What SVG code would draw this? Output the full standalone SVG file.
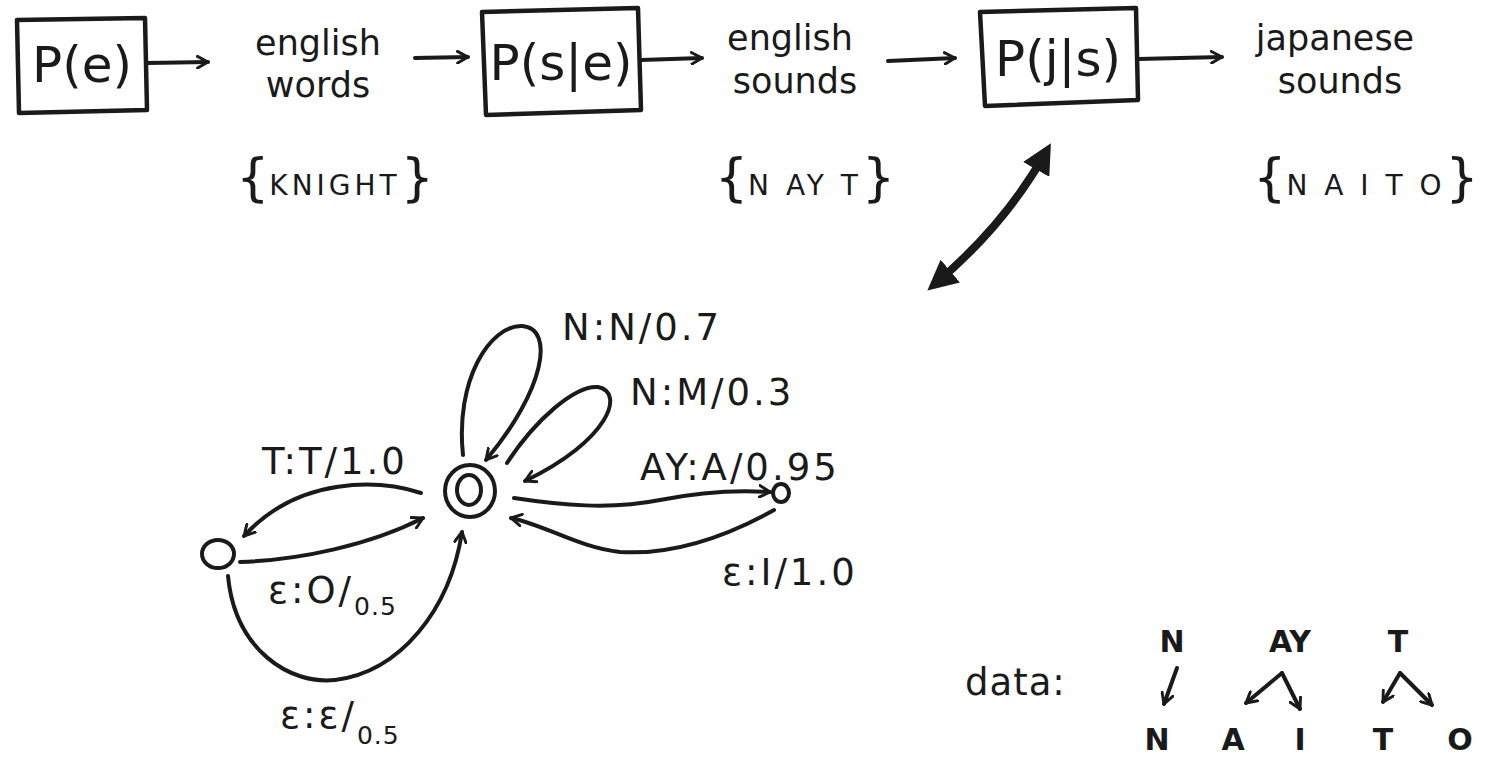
<svg xmlns="http://www.w3.org/2000/svg" width="1500" height="760" viewBox="0 0 1500 760">
<style>
  .ink { fill: none; stroke: #1a1a1a; stroke-width: 4; stroke-linecap: round; stroke-linejoin: round; }
  .box { fill: none; stroke: #1a1a1a; stroke-width: 4.5; stroke-linejoin: round; }
  .big { font-family: "DejaVu Sans", "Liberation Sans", sans-serif; font-size: 50px; fill: #1a1a1a; text-anchor: middle; }
  .hand { font-family: "DejaVu Sans", "Liberation Sans", sans-serif; font-size: 35px; fill: #1a1a1a; text-anchor: middle; }
  .set { font-family: "DejaVu Sans", "Liberation Sans", sans-serif; font-size: 28px; fill: #1a1a1a; text-anchor: middle; letter-spacing: 4px; }
  .brace { font-size: 52px; letter-spacing: 0px; }
  .lbl { font-family: "DejaVu Sans", "Liberation Sans", sans-serif; font-size: 37px; fill: #1a1a1a; letter-spacing: 3px; }
  .sm { font-size: 25px; letter-spacing: 1px; }
  .dat { font-family: "DejaVu Sans", "Liberation Sans", sans-serif; font-size: 30px; fill: #1a1a1a; text-anchor: middle; font-weight: bold; }
</style>
<defs>
  <marker id="head" viewBox="0 0 12 12" refX="10" refY="6" markerWidth="14" markerHeight="14" markerUnits="userSpaceOnUse" orient="auto">
    <path d="M1,1 L10,6 L1,11" fill="none" stroke="#1a1a1a" stroke-width="2.5" stroke-linecap="round" stroke-linejoin="round"/>
  </marker>
  <marker id="bighead" viewBox="0 0 12 12" refX="8" refY="6" markerWidth="30" markerHeight="30" markerUnits="userSpaceOnUse" orient="auto-start-reverse">
    <path d="M0,0 L12,6 L0,12 Z" fill="#1a1a1a"/>
  </marker>
</defs>

<g id="node-pe">
  <path class="box" d="M17,20 L145,18 L147,110 L19,113 Z"/>
  <text class="big" x="82" y="82">P(e)</text>
</g>
<g id="node-english-words">
  <text class="hand" x="318" y="55">english</text>
  <text class="hand" x="318" y="97">words</text>
  <text class="set" x="335" y="195"><tspan class="brace">{</tspan>KNIGHT<tspan class="brace">}</tspan></text>
</g>
<g id="node-pse">
  <path class="box" d="M482,12 L638,8 L641,110 L486,115 Z"/>
  <text class="big" x="561" y="80">P(s|e)</text>
</g>
<g id="node-english-sounds">
  <text class="hand" x="790" y="50">english</text>
  <text class="hand" x="795" y="93">sounds</text>
  <text class="set" x="805" y="195"><tspan class="brace">{</tspan>N AY T<tspan class="brace">}</tspan></text>
</g>
<g id="node-pjs">
  <path class="box" d="M980,12 L1136,8 L1138,100 L985,106 Z"/>
  <text class="big" x="1058" y="76">P(j|s)</text>
</g>
<g id="node-japanese-sounds">
  <text class="hand" x="1335" y="50">japanese</text>
  <text class="hand" x="1340" y="93">sounds</text>
  <text class="set" x="1366" y="195"><tspan class="brace">{</tspan>N A I T O<tspan class="brace">}</tspan></text>
</g>

<g id="fst-state-0">
  <ellipse class="ink" cx="470" cy="491" rx="25" ry="26"/>
  <ellipse class="ink" cx="469" cy="490" rx="12" ry="15"/>
</g>
<g id="fst-state-left">
  <ellipse class="ink" cx="218" cy="554" rx="16" ry="14"/>
</g>
<g id="fst-state-right">
  <ellipse class="ink" cx="781" cy="493" rx="8" ry="9"/>
</g>

<g id="connectors">
  <path class="ink" marker-end="url(#head)" d="M147,63 L208,62"/>
  <path class="ink" marker-end="url(#head)" d="M415,58 L468,57"/>
  <path class="ink" marker-end="url(#head)" d="M641,60 L702,58"/>
  <path class="ink" marker-end="url(#head)" d="M888,61 L955,58"/>
  <path class="ink" marker-end="url(#head)" d="M1138,59 L1222,57"/>
  <path fill="none" stroke="#1a1a1a" stroke-width="8" stroke-linecap="round" marker-start="url(#bighead)" marker-end="url(#bighead)" d="M935,284 Q1005,225 1046,152"/>

  <path class="ink" marker-end="url(#head)" d="M463,455 C455,380 490,325 522,326 C555,328 545,390 486,460"/>
  <path class="ink" marker-end="url(#head)" d="M507,463 C535,420 575,385 598,387 C625,392 610,440 525,481"/>
  <path class="ink" marker-end="url(#head)" d="M421,493 C380,480 300,475 244,536"/>
  <path class="ink" marker-end="url(#head)" d="M240,562 C300,560 370,545 423,518"/>
  <path class="ink" marker-end="url(#head)" d="M228,576 C235,650 290,685 335,680 C400,672 450,610 462,532"/>
  <path class="ink" marker-end="url(#head)" d="M514,498 C560,505 610,510 660,500 C700,492 740,490 770,492"/>
  <path class="ink" marker-end="url(#head)" d="M774,510 C720,540 670,555 620,552 C580,548 545,525 511,518"/>

  <path class="ink" marker-end="url(#head)" d="M1177,668 L1164,704"/>
  <path class="ink" marker-end="url(#head)" d="M1282,673 L1246,703"/>
  <path class="ink" marker-end="url(#head)" d="M1282,673 L1300,709"/>
  <path class="ink" marker-end="url(#head)" d="M1400,673 L1383,702"/>
  <path class="ink" marker-end="url(#head)" d="M1400,673 L1432,705"/>
</g>

<g id="fst-labels">
  <text class="lbl" x="562" y="340">N:N/0.7</text>
  <text class="lbl" x="630" y="405">N:M/0.3</text>
  <text class="lbl" x="262" y="474">T:T/1.0</text>
  <text class="lbl" x="640" y="480">AY:A/0.95</text>
  <text class="lbl" x="722" y="585">ε:I/1.0</text>
  <text class="lbl" x="268" y="603">ε:O/<tspan class="sm" dy="12">0.5</tspan></text>
  <text class="lbl" x="280" y="728">ε:ε/<tspan class="sm" dy="16">0.5</tspan></text>
</g>

<g id="data">
  <text class="lbl" x="965" y="695" style="letter-spacing:1px">data:</text>
  <text class="dat" x="1172" y="652">N</text>
  <text class="dat" x="1290" y="652">AY</text>
  <text class="dat" x="1398" y="652">T</text>
  <text class="dat" x="1157" y="750">N</text>
  <text class="dat" x="1233" y="750">A</text>
  <text class="dat" x="1300" y="750">I</text>
  <text class="dat" x="1383" y="750">T</text>
  <text class="dat" x="1460" y="750">O</text>
</g>
</svg>
